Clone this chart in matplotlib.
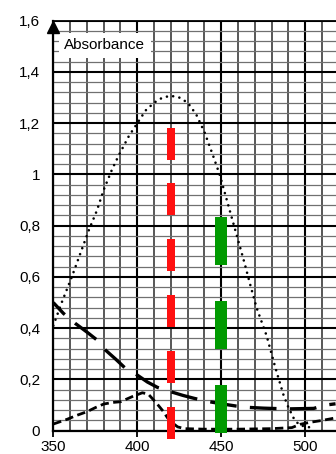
import matplotlib
matplotlib.use("Agg")
import matplotlib.pyplot as plt
from matplotlib.ticker import MultipleLocator, FixedLocator

plt.rcParams['font.family'] = ['Liberation Sans', 'DejaVu Sans']

# Dotted curve (large peak)
wl_dot = [350, 355, 361, 366, 371, 376, 380, 385, 389, 395, 400, 405, 410, 415, 420,
          425, 430, 435, 440, 445, 449, 452, 455, 458, 461, 464, 467, 471, 477, 482,
          487, 490, 493, 496, 500, 505]
abs_dot = [0.41, 0.50, 0.60, 0.69, 0.78, 0.86, 0.94, 1.02, 1.075, 1.15, 1.20, 1.25, 1.28,
           1.30, 1.307, 1.30, 1.28, 1.235, 1.165, 1.075, 1.00, 0.93, 0.86, 0.79, 0.72,
           0.65, 0.575, 0.48, 0.37, 0.25, 0.14, 0.09, 0.05, 0.025, 0.015, 0.012]

# Long-dash curve
wl_long = [350, 356, 363, 370, 376, 381, 387, 393, 400, 406, 412, 420, 427, 434, 443,
           450, 459, 466, 475, 489, 497, 505, 512, 518]
abs_long = [0.50, 0.458, 0.419, 0.385, 0.354, 0.315, 0.28, 0.243, 0.217, 0.19, 0.169,
            0.152, 0.138, 0.126, 0.113, 0.105, 0.096, 0.091, 0.088, 0.085, 0.086, 0.087,
            0.10, 0.105]

# Short-dash curve
wl_short = [350, 358, 364, 370, 375, 380, 385, 390, 397, 403, 406.5, 411.5, 415.5, 418,
            421, 424, 428, 440, 460, 480, 492, 497, 503, 510, 518]
abs_short = [0.026, 0.044, 0.06, 0.074, 0.09, 0.104, 0.11, 0.113, 0.133, 0.148, 0.143,
             0.107, 0.075, 0.05, 0.03, 0.015, 0.008, 0.006, 0.006, 0.008, 0.012, 0.025,
             0.033, 0.04, 0.05]

# Red dashed marker at 420 nm
red_wl = 420
red_lo = [-0.034, 0.185, 0.403, 0.622, 0.840, 1.058]
red_hi = [0.092, 0.311, 0.529, 0.747, 0.965, 1.183]

# Green dashed marker at 450 nm
green_wl = 450
green_lo = [-0.008, 0.320, 0.645]
green_hi = [0.178, 0.506, 0.835]

x_ticks = [350, 400, 450, 500]
y_ticks = [0, 0.2, 0.4, 0.6, 0.8, 1.0, 1.2, 1.4, 1.6]
y_labels = ['0', '0,2', '0,4', '0,6', '0,8', '1', '1,2', '1,4', '1,6']

W, H = 336, 454
fig = plt.figure(figsize=(W / 100, H / 100), dpi=100)
ax = fig.add_axes([53.3 / W, (H - 430.7) / H, (W - 53.3) / W, 410 / H])
ax.set_xlim(350, 350 + (W - 53.3) / 1.68)
ax.set_ylim(0, 1.6)

ax.set_axisbelow(True)
ax.xaxis.set_major_locator(FixedLocator(x_ticks))
ax.xaxis.set_minor_locator(MultipleLocator(10))
ax.yaxis.set_major_locator(FixedLocator(y_ticks))
ax.yaxis.set_minor_locator(MultipleLocator(0.04))
ax.set_yticklabels(y_labels)

ax.grid(which='minor', axis='x', color='#2a2a2a', lw=1.1)
ax.grid(which='minor', axis='y', color='#707070', lw=0.9)
ax.grid(which='major', axis='both', color='black', lw=1.5)

ax.tick_params(axis='x', which='major', length=4, width=1.3, direction='out', pad=2.5,
               labelsize=11, colors='black')
ax.tick_params(axis='y', which='major', length=0, pad=9.5, labelsize=11)
ax.tick_params(which='minor', length=0)

ax.spines['right'].set_visible(False)
ax.spines['left'].set_linewidth(1.6)
ax.spines['bottom'].set_linewidth(1.6)
ax.spines['top'].set_linewidth(1.3)

# Curves
ax.plot(wl_dot, abs_dot, color='black', lw=1.9, linestyle=(0, (0.01, 2.4)),
        dash_capstyle='round', zorder=3)
ax.plot(wl_long, abs_long, color='black', lw=2.4, linestyle=(3.0, (8.0, 4.0)),
        dash_capstyle='butt', zorder=3)
ax.plot(wl_short, abs_short, color='black', lw=2.0, linestyle=(0, (3.0, 1.6)),
        dash_capstyle='butt', zorder=3)

# Coloured dashed markers
for lo, hi in zip(red_lo, red_hi):
    ax.bar(red_wl, hi - lo, bottom=lo, width=4.8, color='#ff1010', zorder=4, clip_on=False)
for lo, hi in zip(green_lo, green_hi):
    ax.bar(green_wl, hi - lo, bottom=lo, width=7.0, color='#009a00', zorder=4, clip_on=False)

# Arrow at top of y axis
ax.plot([350], [1.575], marker='^', ms=9, color='black', clip_on=False, zorder=6)

ax.text(380.5, 1.504, 'Absorbance', ha='center', va='center', fontsize=11,
        bbox=dict(facecolor='white', edgecolor='none', pad=4), zorder=3)

fig.savefig('out.png', dpi=100)
